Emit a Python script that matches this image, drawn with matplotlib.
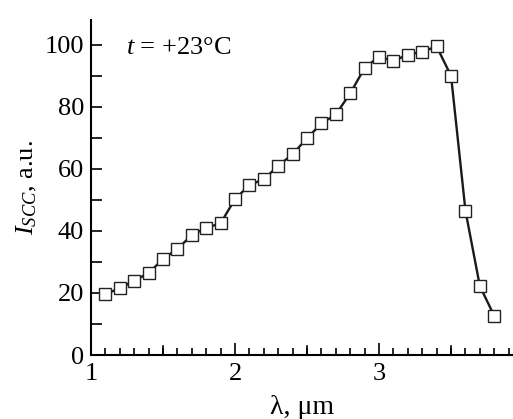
import numpy as np
import matplotlib
matplotlib.use('Agg')
import matplotlib.pyplot as plt
from matplotlib.ticker import MultipleLocator

wavelength = [1.1, 1.2, 1.3, 1.4, 1.5, 1.6, 1.7, 1.8, 1.9, 2.0,
              2.1, 2.2, 2.3, 2.4, 2.5, 2.6, 2.7, 2.8, 2.9, 3.0,
              3.1, 3.2, 3.3, 3.4, 3.5, 3.6, 3.7, 3.8]
iscc = [19.7, 21.5, 24.0, 26.4, 31.0, 34.2, 38.7, 41.0, 42.5, 50.3,
        54.8, 56.7, 61.0, 64.8, 69.9, 74.7, 77.6, 84.4, 92.6, 96.2,
        94.8, 96.9, 97.8, 99.5, 90.0, 46.5, 22.2, 12.6]

plt.rcParams['font.family'] = ['Liberation Serif', 'DejaVu Serif']
plt.rcParams['mathtext.fontset'] = 'custom'
plt.rcParams['mathtext.rm'] = 'Liberation Serif'
plt.rcParams['mathtext.it'] = 'Liberation Serif:italic'

fig = plt.figure(figsize=(5.13, 4.19), dpi=100)
ax = fig.add_axes([0.1774, 0.1527, 0.8226, 0.7993])

ax.plot(wavelength, iscc, color='#1a1a1a', lw=1.7, marker='s', ms=9,
        mfc='white', mec='#222222', mew=1.0)

ax.set_xlim(1, 3.93)
ax.set_ylim(0, 108)
ax.xaxis.set_major_locator(MultipleLocator(1))
ax.xaxis.set_minor_locator(MultipleLocator(0.1))
ax.yaxis.set_major_locator(MultipleLocator(20))
ax.yaxis.set_minor_locator(MultipleLocator(10))

for s in ['top', 'right']:
    ax.spines[s].set_visible(False)
for s in ['left', 'bottom']:
    ax.spines[s].set_linewidth(1.5)

ax.tick_params(which='both', direction='in', width=1.2, labelsize=19)
ax.tick_params(axis='x', which='major', length=9, pad=6)
ax.tick_params(axis='x', which='minor', length=5)
ax.tick_params(axis='y', which='both', length=8, pad=5)
# extra x ticks at the halves, same length as major
for xv in [1.5, 2.5, 3.5]:
    ax.plot([xv, xv], [0, 108 * 9 / 335], color='black', lw=1.2, clip_on=False)

ax.set_xlabel('λ, μm', fontsize=20, labelpad=7)
ax.set_ylabel('$I_{SCC}$, a.u.', fontsize=19, labelpad=4)
ax.text(1.24, 95.5, '$t$ = +23°C', fontsize=19, va='bottom')

fig.savefig('out.png', dpi=100)
